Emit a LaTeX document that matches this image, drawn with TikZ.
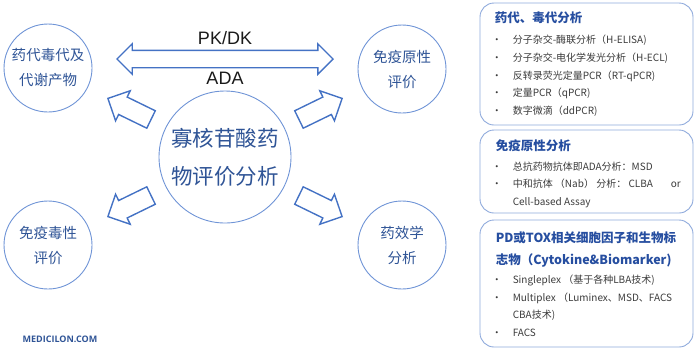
\documentclass[tikz,border=0pt]{standalone}
\usepackage{fontspec}
\setmainfont{Noto Sans CJK SC}
\newfontfamily\arialfont{Liberation Sans}
\newfontfamily\logofont{Open Sans}
\usepackage{tikz}
\usetikzlibrary{shapes.arrows,positioning}
\definecolor{arrblue}{RGB}{68,114,196}
\definecolor{ringblue}{RGB}{111,148,214}
\definecolor{inkblue}{RGB}{47,84,150}
\definecolor{titleblue}{RGB}{38,78,160}
\definecolor{itemgray}{RGB}{60,60,60}
\definecolor{panelblue}{RGB}{143,170,220}
\newcommand{\bul}{\makebox[12pt][c]{•}\hspace{10pt}}
\newcommand{\cont}{\hspace*{22pt}}

\begin{document}
\begin{tikzpicture}[x=1pt,y=-1pt,
  every node/.style={inner sep=0pt},
  ring/.style={circle,draw=ringblue,line width=0.9pt,text=inkblue,align=center},
  small/.style={ring,minimum size=88pt,font=\fontsize{14.5}{25}\selectfont},
  big/.style={ring,minimum size=132pt,font=\fontsize{21.5}{38}\selectfont},
  fatarr/.style={single arrow,draw=arrblue,line width=1.4pt,minimum height=48pt,
    inner xsep=0pt,inner ysep=9pt,single arrow head extend=7pt,anchor=tip},
  dblarr/.style={double arrow,draw=arrblue,line width=1.4pt,minimum height=216pt,
    inner xsep=0pt,inner ysep=8pt,double arrow head extend=6.5pt},
  lbl/.style={font=\arialfont\fontsize{18}{18}\selectfont,text=black!90},
  panel/.style={draw=panelblue,line width=0.9pt,rounded corners=14pt,fill=white},
  ptitle/.style={font=\bfseries\fontsize{12.5}{22}\selectfont,text=titleblue,align=left,anchor=base west},
  plist/.style={font=\fontsize{10}{17.7}\selectfont,text=itemgray,align=left,anchor=base west}]
 \useasboundingbox (0,0) rectangle (700,349);
 % circles
 \node[big] (core) at (225,157) {寡核苷酸药\\物评价分析};
 \node[small] (pkm) at (48,68) {药代毒代及\\代谢产物};
 \node[small] (immtox) at (48,245) {免疫毒性\\评价};
 \node[small] (immgen) at (402,69) {免疫原性\\评价};
 \node[small] (pd) at (402,245) {药效学\\分析};
 % arrows
 \node[dblarr] (pkada) at (225,59) {};
 \node[lbl] (pk) at (225,38) {PK/DK};
 \node[lbl] (ada) at (225,78) {ADA};
 \node[fatarr,rotate=154] (a1) at (107,98) {};
 \node[fatarr,rotate=26] (a2) at (343,98) {};
 \node[fatarr,rotate=206] (a3) at (107,217) {};
 \node[fatarr,rotate=-26] (a4) at (343,217) {};
 \node[font=\logofont\bfseries\fontsize{9}{9}\selectfont,text=inkblue] (logo) at (60,339) {MEDICILON.COM};
 % panels (base west of a multi-line node = baseline of its last line)
 \node[panel,minimum width=213pt,minimum height=122pt] (p1) at (586.5,64) {};
 \node[ptitle] (p1t) at ([shift={(15,20)}]p1.north west) {药代、毒代分析};
 \node[plist] (p1l) at ([shift={(11,112)}]p1.north west)
  {\bul 分子杂交-酶联分析（H-ELISA)\\
   \bul 分子杂交-电化学发光分析（H-ECL)\\
   \bul 反转录荧光定量PCR（RT-qPCR)\\
   \bul 定量PCR（qPCR)\\
   \bul 数字微滴（ddPCR)};
 \node[panel,minimum width=213pt,minimum height=83pt] (p2) at (586.5,171.5) {};
 \node[ptitle] (p2t) at ([shift={(16,21)}]p2.north west) {免疫原性分析};
 \node[plist] (p2l) at ([shift={(11,76)}]p2.north west)
  {\bul 总抗药物抗体即ADA分析：MSD\\
   \bul \makebox[168pt][l]{中和抗体 （Nab） 分析： CLBA\hfill or}\\
   \cont Cell-based Assay};
 \node[panel,minimum width=213pt,minimum height=127pt] (p3) at (586.5,283.5) {};
 \node[ptitle] (p3t) at ([shift={(16,45)}]p3.north west)
  {PD或TOX相关细胞因子和生物标\\志物（Cytokine\&Biomarker)};
 \node[plist] (p3l) at ([shift={(11,117)}]p3.north west)
  {\bul Singleplex （基于各种LBA技术)\\
   \bul Multiplex （Luminex、MSD、FACS\\
   \cont CBA技术)\\
   \bul FACS};
\end{tikzpicture}
\end{document}
